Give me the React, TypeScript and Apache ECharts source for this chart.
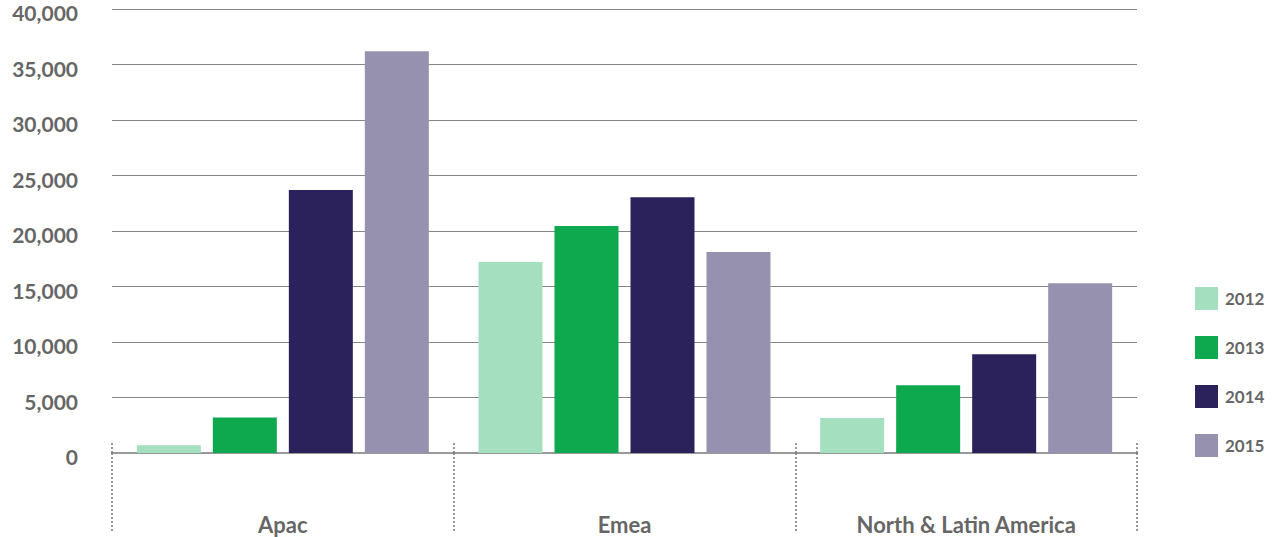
import React, { useEffect, useRef } from "react";
import * as echarts from "echarts";

// Sales by region, 2012–2015
const regions = ["Apac", "Emea", "North & Latin America"];
const years = ["2012", "2013", "2014", "2015"];
const values2012 = [700, 17200, 3150];
const values2013 = [3200, 20450, 6100];
const values2014 = [23700, 23050, 8900];
const values2015 = [36200, 18100, 15300];
const yearColors = ["#a4dfc0", "#0ea84e", "#2b225c", "#9691ae"];

const seriesValues = [values2012, values2013, values2014, values2015];
const FONT = "Lato, 'Noto Sans', sans-serif";

export default function App() {
  const ref = useRef<HTMLDivElement>(null);

  useEffect(() => {
    if (!ref.current) return;
    const chart = echarts.init(ref.current, undefined, { renderer: "svg" });
    chart.setOption({
      animation: false,
      backgroundColor: "#ffffff",
      grid: { left: 112, right: 140, top: 9, bottom: 84, containLabel: false },
      legend: {
        orient: "vertical",
        left: 1195,
        top: 287,
        padding: 0,
        itemWidth: 23,
        itemHeight: 23,
        itemGap: 26,
        icon: "rect",
        data: years,
        textStyle: { fontFamily: FONT, fontWeight: "bold", fontSize: 17, color: "#666", padding: [0, 0, 0, 2] },
      },
      xAxis: [
        {
          type: "category",
          data: regions,
          axisLine: { lineStyle: { color: "#999", width: 2 } },
          axisTick: { show: true, length: 80, lineStyle: { color: "#777", type: [2, 2], width: 1.5 } },
          axisLabel: { margin: 60, fontFamily: FONT, fontWeight: "bold", fontSize: 22, color: "#666" },
        },
        {
          type: "category",
          data: regions,
          position: "bottom",
          axisLine: { show: false },
          axisTick: { show: true, inside: true, length: 12, lineStyle: { color: "#777", type: [2, 2], width: 1.5 } },
          axisLabel: { show: false },
        },
      ],
      yAxis: {
        type: "value",
        min: 0,
        max: 40000,
        interval: 5000,
        axisLine: { show: false },
        axisTick: { show: false },
        splitLine: { lineStyle: { color: "#858585", width: 1 } },
        axisLabel: {
          margin: 34,
          fontFamily: FONT,
          fontWeight: "bold",
          fontSize: 21,
          color: "#666",
          verticalAlign: "top",
          lineHeight: 7,
          formatter: (v: number) => v.toLocaleString("en-US"),
        },
      },
      series: years.map((y, i) => ({
        name: y,
        type: "bar",
        data: seriesValues[i],
        barWidth: 64,
        barGap: "18.75%",
        itemStyle: { color: yearColors[i] },
      })),
    });
    return () => chart.dispose();
  }, []);

  return <div ref={ref} style={{ width: 1277, height: 537, position: "absolute", left: 0, top: 0 }} />;
}
